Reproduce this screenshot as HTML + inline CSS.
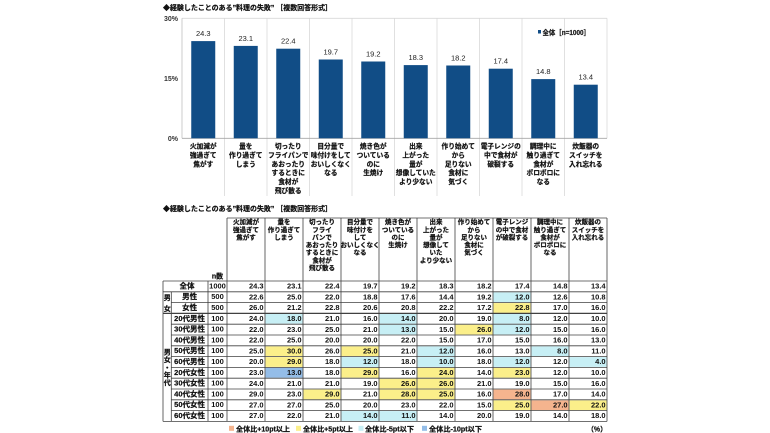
<!DOCTYPE html>
<html><head><meta charset="utf-8">
<style>
html,body{margin:0;padding:0;background:#fff;}
body{width:770px;height:433px;overflow:hidden;}
svg{display:block;font-family:"Liberation Sans","Noto Sans CJK JP",sans-serif;}
.b{font-weight:bold;}
.s{stroke:#111;stroke-width:0.22;}
</style></head>
<body>
<svg width="770" height="433" viewBox="0 0 770 433" xmlns="http://www.w3.org/2000/svg">
<!-- ============ BAR CHART ============ -->
<text x="163" y="10" font-size="7" class="b s" fill="#111" textLength="169" lengthAdjust="spacingAndGlyphs">◆経験したことのある”料理の失敗” ［複数回答形式］</text>

<g stroke="#d9d9d9" stroke-width="0.8" fill="none">
<line x1="182" y1="18.3" x2="607" y2="18.3"/>
<line x1="607" y1="18.3" x2="607" y2="138.3"/>
<line x1="224.5" y1="18.3" x2="224.5" y2="196"/>
<line x1="267" y1="18.3" x2="267" y2="196"/>
<line x1="309.5" y1="18.3" x2="309.5" y2="196"/>
<line x1="352" y1="18.3" x2="352" y2="196"/>
<line x1="394.5" y1="18.3" x2="394.5" y2="196"/>
<line x1="437" y1="18.3" x2="437" y2="196"/>
<line x1="479.5" y1="18.3" x2="479.5" y2="196"/>
<line x1="522" y1="18.3" x2="522" y2="196"/>
<line x1="564.5" y1="18.3" x2="564.5" y2="196"/>
</g>
<line x1="182" y1="18.3" x2="182" y2="138.3" stroke="#bfbfbf" stroke-width="0.8"/>
<line x1="182" y1="138.3" x2="607" y2="138.3" stroke="#a6a6a6" stroke-width="0.8"/>

<g font-size="7" class="b" fill="#333" text-anchor="end">
<text x="178" y="20.8">30%</text>
<text x="178" y="80.8">15%</text>
<text x="178" y="140.8">0%</text>
</g>

<g fill="#114d86">
<rect x="191.25" y="41.1" width="24" height="97.2"/>
<rect x="233.75" y="45.9" width="24" height="92.4"/>
<rect x="276.25" y="48.7" width="24" height="89.6"/>
<rect x="318.75" y="59.5" width="24" height="78.8"/>
<rect x="361.25" y="61.5" width="24" height="76.8"/>
<rect x="403.75" y="65.1" width="24" height="73.2"/>
<rect x="446.25" y="65.5" width="24" height="72.8"/>
<rect x="488.75" y="68.7" width="24" height="69.6"/>
<rect x="531.25" y="79.1" width="24" height="59.2"/>
<rect x="573.75" y="84.7" width="24" height="53.6"/>
</g>
<g font-size="7.5" fill="#222" text-anchor="middle">
<text x="203.25" y="36">24.3</text>
<text x="245.75" y="40.8">23.1</text>
<text x="288.25" y="43.6">22.4</text>
<text x="330.75" y="54.4">19.7</text>
<text x="373.25" y="56.4">19.2</text>
<text x="415.75" y="60">18.3</text>
<text x="458.25" y="60.4">18.2</text>
<text x="500.75" y="63.6">17.4</text>
<text x="543.25" y="74">14.8</text>
<text x="585.75" y="79.6">13.4</text>
</g>

<rect x="538" y="30" width="3" height="3.5" fill="#114d86"/>
<text x="542.5" y="34.8" font-size="7" class="b s" fill="#222" textLength="47.5" lengthAdjust="spacingAndGlyphs">全体［n=1000］</text>

<g font-size="6.7" class="b s" fill="#111" text-anchor="middle">
<text y="148.5"><tspan x="203.25">火加減が</tspan><tspan x="203.25" dy="8.9">強過ぎて</tspan><tspan x="203.25" dy="8.9">焦がす</tspan></text>
<text y="148.5"><tspan x="245.75">量を</tspan><tspan x="245.75" dy="8.9">作り過ぎて</tspan><tspan x="245.75" dy="8.9">しまう</tspan></text>
<text y="148.5"><tspan x="288.25">切ったり</tspan><tspan x="288.25" dy="8.9">フライパンで</tspan><tspan x="288.25" dy="8.9">あおったり</tspan><tspan x="288.25" dy="8.9">するときに</tspan><tspan x="288.25" dy="8.9">食材が</tspan><tspan x="288.25" dy="8.9">飛び散る</tspan></text>
<text y="148.5"><tspan x="330.75">目分量で</tspan><tspan x="330.75" dy="8.9">味付けをして</tspan><tspan x="330.75" dy="8.9">おいしくなく</tspan><tspan x="330.75" dy="8.9">なる</tspan></text>
<text y="148.5"><tspan x="373.25">焼き色が</tspan><tspan x="373.25" dy="8.9">ついている</tspan><tspan x="373.25" dy="8.9">のに</tspan><tspan x="373.25" dy="8.9">生焼け</tspan></text>
<text y="148.5"><tspan x="415.75">出来</tspan><tspan x="415.75" dy="8.9">上がった</tspan><tspan x="415.75" dy="8.9">量が</tspan><tspan x="415.75" dy="8.9">想像していた</tspan><tspan x="415.75" dy="8.9">より少ない</tspan></text>
<text y="148.5"><tspan x="458.25">作り始めて</tspan><tspan x="458.25" dy="8.9">から</tspan><tspan x="458.25" dy="8.9">足りない</tspan><tspan x="458.25" dy="8.9">食材に</tspan><tspan x="458.25" dy="8.9">気づく</tspan></text>
<text y="148.5"><tspan x="500.75">電子レンジの</tspan><tspan x="500.75" dy="8.9">中で食材が</tspan><tspan x="500.75" dy="8.9">破裂する</tspan></text>
<text y="148.5"><tspan x="543.25">調理中に</tspan><tspan x="543.25" dy="8.9">触り過ぎて</tspan><tspan x="543.25" dy="8.9">食材が</tspan><tspan x="543.25" dy="8.9">ボロボロに</tspan><tspan x="543.25" dy="8.9">なる</tspan></text>
<text y="148.5"><tspan x="585.75">炊飯器の</tspan><tspan x="585.75" dy="8.9">スイッチを</tspan><tspan x="585.75" dy="8.9">入れ忘れる</tspan></text>
</g>

<!-- ============ TABLE ============ -->
<text x="163" y="210.8" font-size="7" class="b s" fill="#111" textLength="169" lengthAdjust="spacingAndGlyphs">◆経験したことのある”料理の失敗” ［複数回答形式］</text>

<g>
<rect x="493.5" y="292.3" width="37" height="9.8" fill="#c7eff5"/>
<rect x="493.5" y="303.1" width="37" height="9.8" fill="#fbef8a"/>
<rect x="265.5" y="313.9" width="37" height="9.8" fill="#c7eff5"/>
<rect x="379.5" y="313.9" width="37" height="9.8" fill="#c7eff5"/>
<rect x="493.5" y="313.9" width="37" height="9.8" fill="#c7eff5"/>
<rect x="379.5" y="324.7" width="37" height="9.8" fill="#c7eff5"/>
<rect x="455.5" y="324.7" width="37" height="9.8" fill="#fbef8a"/>
<rect x="493.5" y="324.7" width="37" height="9.8" fill="#c7eff5"/>
<rect x="265.5" y="346.3" width="37" height="9.8" fill="#fbef8a"/>
<rect x="341.5" y="346.3" width="37" height="9.8" fill="#fbef8a"/>
<rect x="417.5" y="346.3" width="37" height="9.8" fill="#c7eff5"/>
<rect x="531.5" y="346.3" width="37" height="9.8" fill="#c7eff5"/>
<rect x="265.5" y="357.1" width="37" height="9.8" fill="#fbef8a"/>
<rect x="341.5" y="357.1" width="37" height="9.8" fill="#c7eff5"/>
<rect x="417.5" y="357.1" width="37" height="9.8" fill="#c7eff5"/>
<rect x="493.5" y="357.1" width="37" height="9.8" fill="#c7eff5"/>
<rect x="569.5" y="357.1" width="37" height="9.8" fill="#c7eff5"/>
<rect x="265.5" y="367.9" width="37" height="9.8" fill="#94bde8"/>
<rect x="341.5" y="367.9" width="37" height="9.8" fill="#fbef8a"/>
<rect x="417.5" y="367.9" width="37" height="9.8" fill="#fbef8a"/>
<rect x="493.5" y="367.9" width="37" height="9.8" fill="#fbef8a"/>
<rect x="379.5" y="378.7" width="37" height="9.8" fill="#fbef8a"/>
<rect x="417.5" y="378.7" width="37" height="9.8" fill="#fbef8a"/>
<rect x="303.5" y="389.5" width="37" height="9.8" fill="#fbef8a"/>
<rect x="379.5" y="389.5" width="37" height="9.8" fill="#fbef8a"/>
<rect x="417.5" y="389.5" width="37" height="9.8" fill="#fbef8a"/>
<rect x="493.5" y="389.5" width="37" height="9.8" fill="#f5b48e"/>
<rect x="493.5" y="400.3" width="37" height="9.8" fill="#fbef8a"/>
<rect x="531.5" y="400.3" width="37" height="9.8" fill="#f5b48e"/>
<rect x="569.5" y="400.3" width="37" height="9.8" fill="#fbef8a"/>
<rect x="341.5" y="411.1" width="37" height="9.8" fill="#c7eff5"/>
<rect x="379.5" y="411.1" width="37" height="9.8" fill="#c7eff5"/>
</g>

<g stroke="#404040" stroke-width="0.8" fill="none">
<line x1="227" y1="218" x2="607" y2="218"/>
<line x1="163" y1="281" x2="607" y2="281"/>
<line x1="163" y1="291.8" x2="607" y2="291.8"/>
<line x1="171.3" y1="302.6" x2="607" y2="302.6"/>
<line x1="163" y1="313.4" x2="607" y2="313.4" stroke-width="1.2"/>
<line x1="171.3" y1="324.2" x2="607" y2="324.2"/>
<line x1="171.3" y1="335" x2="607" y2="335"/>
<line x1="171.3" y1="345.8" x2="607" y2="345.8"/>
<line x1="171.3" y1="356.6" x2="607" y2="356.6"/>
<line x1="171.3" y1="367.4" x2="607" y2="367.4"/>
<line x1="171.3" y1="378.2" x2="607" y2="378.2"/>
<line x1="171.3" y1="389" x2="607" y2="389"/>
<line x1="171.3" y1="399.8" x2="607" y2="399.8"/>
<line x1="171.3" y1="410.6" x2="607" y2="410.6"/>
<line x1="163" y1="421.4" x2="607" y2="421.4"/>
<line x1="163" y1="281" x2="163" y2="421.4"/>
<line x1="171.3" y1="291.8" x2="171.3" y2="421.4"/>
<line x1="208" y1="281" x2="208" y2="421.4"/>
<line x1="227" y1="218" x2="227" y2="421.4"/>
<line x1="265" y1="218" x2="265" y2="421.4"/>
<line x1="303" y1="218" x2="303" y2="421.4"/>
<line x1="341" y1="218" x2="341" y2="421.4"/>
<line x1="379" y1="218" x2="379" y2="421.4"/>
<line x1="417" y1="218" x2="417" y2="421.4"/>
<line x1="455" y1="218" x2="455" y2="421.4"/>
<line x1="493" y1="218" x2="493" y2="421.4"/>
<line x1="531" y1="218" x2="531" y2="421.4"/>
<line x1="569" y1="218" x2="569" y2="421.4"/>
<line x1="607" y1="218" x2="607" y2="421.4"/>
</g>

<g font-size="6.5" class="b s" fill="#111" text-anchor="middle">
<text y="224.1"><tspan x="246">火加減が</tspan><tspan x="246" dy="7.65">強過ぎて</tspan><tspan x="246" dy="7.65">焦がす</tspan></text>
<text y="224.1"><tspan x="284">量を</tspan><tspan x="284" dy="7.65">作り過ぎて</tspan><tspan x="284" dy="7.65">しまう</tspan></text>
<text y="224.1"><tspan x="322">切ったり</tspan><tspan x="322" dy="7.65">フライ</tspan><tspan x="322" dy="7.65">パンで</tspan><tspan x="322" dy="7.65">あおったり</tspan><tspan x="322" dy="7.65">するときに</tspan><tspan x="322" dy="7.65">食材が</tspan><tspan x="322" dy="7.65">飛び散る</tspan></text>
<text y="224.1"><tspan x="360">目分量で</tspan><tspan x="360" dy="7.65">味付けを</tspan><tspan x="360" dy="7.65">して</tspan><tspan x="360" dy="7.65">おいしくなく</tspan><tspan x="360" dy="7.65">なる</tspan></text>
<text y="224.1"><tspan x="398">焼き色が</tspan><tspan x="398" dy="7.65">ついている</tspan><tspan x="398" dy="7.65">のに</tspan><tspan x="398" dy="7.65">生焼け</tspan></text>
<text y="224.1"><tspan x="436">出来</tspan><tspan x="436" dy="7.65">上がった</tspan><tspan x="436" dy="7.65">量が</tspan><tspan x="436" dy="7.65">想像して</tspan><tspan x="436" dy="7.65">いた</tspan><tspan x="436" dy="7.65">より少ない</tspan></text>
<text y="224.1"><tspan x="474">作り始めて</tspan><tspan x="474" dy="7.65">から</tspan><tspan x="474" dy="7.65">足りない</tspan><tspan x="474" dy="7.65">食材に</tspan><tspan x="474" dy="7.65">気づく</tspan></text>
<text y="224.1"><tspan x="512">電子レンジ</tspan><tspan x="512" dy="7.65">の中で食材</tspan><tspan x="512" dy="7.65">が破裂する</tspan></text>
<text y="224.1"><tspan x="550">調理中に</tspan><tspan x="550" dy="7.65">触り過ぎて</tspan><tspan x="550" dy="7.65">食材が</tspan><tspan x="550" dy="7.65">ボロボロに</tspan><tspan x="550" dy="7.65">なる</tspan></text>
<text y="224.1"><tspan x="588">炊飯器の</tspan><tspan x="588" dy="7.65">スイッチを</tspan><tspan x="588" dy="7.65">入れ忘れる</tspan></text>
<text x="217.5" y="278.6" font-size="7">n数</text>
</g>

<g font-size="7.5" class="b s" fill="#111" text-anchor="middle">
<text x="187" y="288.4">全体</text>
<text x="189.6" y="299.2">男性</text>
<text x="189.6" y="310">女性</text>
<text x="189.6" y="320.8">20代男性</text>
<text x="189.6" y="331.6">30代男性</text>
<text x="189.6" y="342.4">40代男性</text>
<text x="189.6" y="353.2">50代男性</text>
<text x="189.6" y="364">60代男性</text>
<text x="189.6" y="374.8">20代女性</text>
<text x="189.6" y="385.6">30代女性</text>
<text x="189.6" y="396.4">40代女性</text>
<text x="189.6" y="407.2">50代女性</text>
<text x="189.6" y="418">60代女性</text>
</g>
<g font-size="7.5" class="b" fill="#111" text-anchor="middle">
<text x="217.5" y="288.4">1000</text>
<text x="217.5" y="299.2">500</text>
<text x="217.5" y="310">500</text>
<text x="217.5" y="320.8">100</text>
<text x="217.5" y="331.6">100</text>
<text x="217.5" y="342.4">100</text>
<text x="217.5" y="353.2">100</text>
<text x="217.5" y="364">100</text>
<text x="217.5" y="374.8">100</text>
<text x="217.5" y="385.6">100</text>
<text x="217.5" y="396.4">100</text>
<text x="217.5" y="407.2">100</text>
<text x="217.5" y="418">100</text>
</g>
<g font-size="7" class="b s" fill="#111" text-anchor="middle">
<text x="167.2" y="299.8">男</text>
<text x="167.2" y="310.8">女</text>
<text x="167.2" y="354.4">男</text>
<text x="167.2" y="362.1">女</text>
<text x="167.2" y="369.8">・</text>
<text x="167.2" y="377.5">年</text>
<text x="167.2" y="385.2">代</text>
</g>

<g font-size="7.5" class="b" fill="#111" text-anchor="end">
<g transform="translate(0,288.6)"><text x="263.6">24.3</text><text x="301.6">23.1</text><text x="339.6">22.4</text><text x="377.6">19.7</text><text x="415.6">19.2</text><text x="453.6">18.3</text><text x="491.6">18.2</text><text x="529.6">17.4</text><text x="567.6">14.8</text><text x="605.6">13.4</text></g>
<g transform="translate(0,299.4)"><text x="263.6">22.6</text><text x="301.6">25.0</text><text x="339.6">22.0</text><text x="377.6">18.8</text><text x="415.6">17.6</text><text x="453.6">14.4</text><text x="491.6">19.2</text><text x="529.6">12.0</text><text x="567.6">12.6</text><text x="605.6">10.8</text></g>
<g transform="translate(0,310.2)"><text x="263.6">26.0</text><text x="301.6">21.2</text><text x="339.6">22.8</text><text x="377.6">20.6</text><text x="415.6">20.8</text><text x="453.6">22.2</text><text x="491.6">17.2</text><text x="529.6">22.8</text><text x="567.6">17.0</text><text x="605.6">16.0</text></g>
<g transform="translate(0,321)"><text x="263.6">24.0</text><text x="301.6">18.0</text><text x="339.6">21.0</text><text x="377.6">16.0</text><text x="415.6">14.0</text><text x="453.6">20.0</text><text x="491.6">19.0</text><text x="529.6">8.0</text><text x="567.6">12.0</text><text x="605.6">10.0</text></g>
<g transform="translate(0,331.8)"><text x="263.6">22.0</text><text x="301.6">23.0</text><text x="339.6">25.0</text><text x="377.6">21.0</text><text x="415.6">13.0</text><text x="453.6">15.0</text><text x="491.6">26.0</text><text x="529.6">12.0</text><text x="567.6">15.0</text><text x="605.6">16.0</text></g>
<g transform="translate(0,342.6)"><text x="263.6">22.0</text><text x="301.6">25.0</text><text x="339.6">20.0</text><text x="377.6">20.0</text><text x="415.6">22.0</text><text x="453.6">15.0</text><text x="491.6">17.0</text><text x="529.6">15.0</text><text x="567.6">16.0</text><text x="605.6">13.0</text></g>
<g transform="translate(0,353.4)"><text x="263.6">25.0</text><text x="301.6">30.0</text><text x="339.6">26.0</text><text x="377.6">25.0</text><text x="415.6">21.0</text><text x="453.6">12.0</text><text x="491.6">16.0</text><text x="529.6">13.0</text><text x="567.6">8.0</text><text x="605.6">11.0</text></g>
<g transform="translate(0,364.2)"><text x="263.6">20.0</text><text x="301.6">29.0</text><text x="339.6">18.0</text><text x="377.6">12.0</text><text x="415.6">18.0</text><text x="453.6">10.0</text><text x="491.6">18.0</text><text x="529.6">12.0</text><text x="567.6">12.0</text><text x="605.6">4.0</text></g>
<g transform="translate(0,375)"><text x="263.6">23.0</text><text x="301.6">13.0</text><text x="339.6">18.0</text><text x="377.6">29.0</text><text x="415.6">16.0</text><text x="453.6">24.0</text><text x="491.6">14.0</text><text x="529.6">23.0</text><text x="567.6">12.0</text><text x="605.6">10.0</text></g>
<g transform="translate(0,385.8)"><text x="263.6">24.0</text><text x="301.6">21.0</text><text x="339.6">21.0</text><text x="377.6">19.0</text><text x="415.6">26.0</text><text x="453.6">26.0</text><text x="491.6">21.0</text><text x="529.6">19.0</text><text x="567.6">15.0</text><text x="605.6">16.0</text></g>
<g transform="translate(0,396.6)"><text x="263.6">29.0</text><text x="301.6">23.0</text><text x="339.6">29.0</text><text x="377.6">21.0</text><text x="415.6">28.0</text><text x="453.6">25.0</text><text x="491.6">16.0</text><text x="529.6">28.0</text><text x="567.6">17.0</text><text x="605.6">14.0</text></g>
<g transform="translate(0,407.4)"><text x="263.6">27.0</text><text x="301.6">27.0</text><text x="339.6">25.0</text><text x="377.6">20.0</text><text x="415.6">23.0</text><text x="453.6">22.0</text><text x="491.6">15.0</text><text x="529.6">25.0</text><text x="567.6">27.0</text><text x="605.6">22.0</text></g>
<g transform="translate(0,418.2)"><text x="263.6">27.0</text><text x="301.6">22.0</text><text x="339.6">21.0</text><text x="377.6">14.0</text><text x="415.6">11.0</text><text x="453.6">14.0</text><text x="491.6">20.0</text><text x="529.6">19.0</text><text x="567.6">14.0</text><text x="605.6">18.0</text></g>
</g>

<rect x="229" y="425.8" width="5" height="5" fill="#f5b48e"/>
<rect x="296" y="425.8" width="5" height="5" fill="#fbef8a"/>
<rect x="358.5" y="425.8" width="5" height="5" fill="#c7eff5"/>
<rect x="422" y="425.8" width="5" height="5" fill="#94bde8"/>
<g font-size="7" class="b s" fill="#111">
<text x="236" y="431.5" textLength="54" lengthAdjust="spacingAndGlyphs">全体比+10pt以上</text>
<text x="303" y="431.5" textLength="50" lengthAdjust="spacingAndGlyphs">全体比+5pt以上</text>
<text x="365" y="431.5" textLength="49" lengthAdjust="spacingAndGlyphs">全体比-5pt以下</text>
<text x="429" y="431.5" textLength="53" lengthAdjust="spacingAndGlyphs">全体比-10pt以下</text>
<text x="587" y="431.5" textLength="20" lengthAdjust="spacingAndGlyphs">（%）</text>
</g>
</svg>
</body></html>
